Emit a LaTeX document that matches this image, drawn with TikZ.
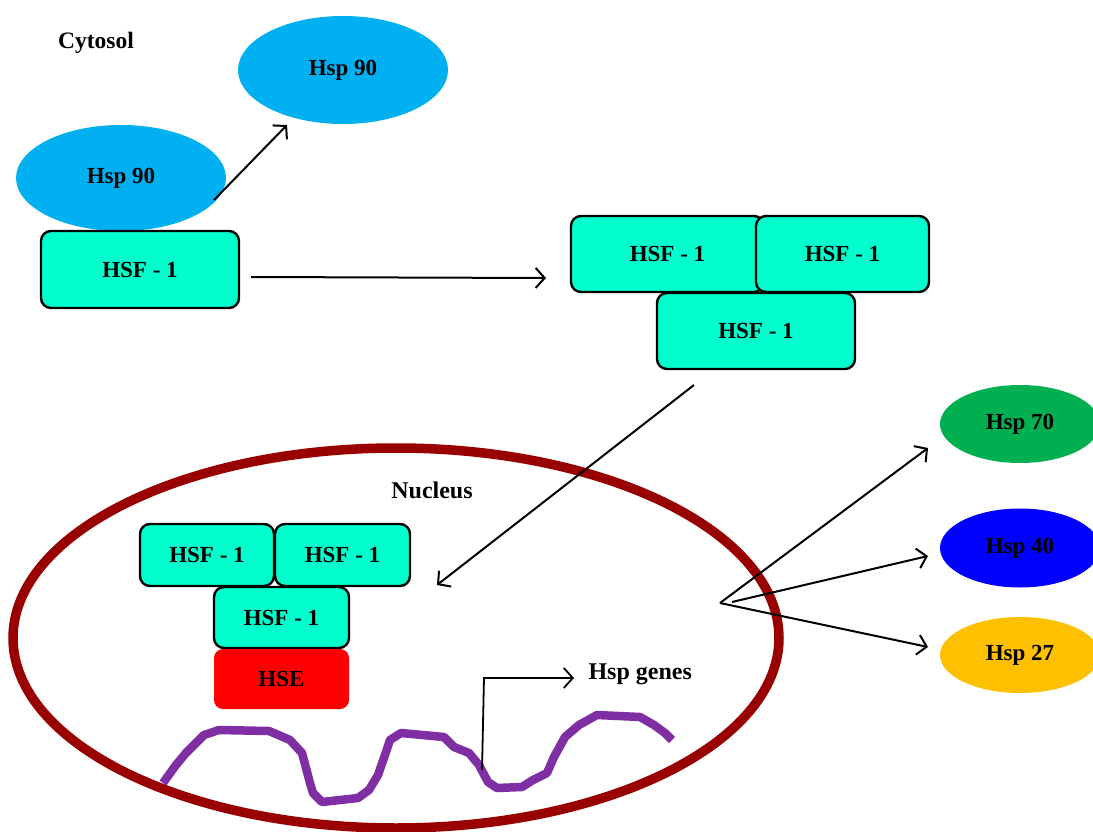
\documentclass[tikz,border=0pt]{standalone}
\usepackage{fontspec}
\setmainfont{Liberation Serif}
\usetikzlibrary{shapes.geometric,arrows.meta}
\definecolor{hspblue}{HTML}{00B0F0}
\definecolor{hsfc}{HTML}{00FFCC}
\definecolor{hspgreen}{HTML}{00B050}
\definecolor{hspdblue}{HTML}{0000FF}
\definecolor{hspyellow}{HTML}{FFC000}
\definecolor{hsered}{HTML}{FF0000}
\definecolor{nucred}{HTML}{990000}
\definecolor{dnapurple}{HTML}{7F2FA3}
\begin{document}
\begin{tikzpicture}[x=1pt,y=-1pt,
  lbl/.style={font=\bfseries\fontsize{23}{26}\selectfont},
  hsfbox/.style={draw=black, line width=2.4pt, fill=hsfc, rounded corners=10pt, inner sep=0pt, lbl},
  prot/.style={ellipse, inner sep=0pt, lbl},
  arr/.style={line width=2pt, -{Straight Barb[length=9pt,width=20pt]}},
  thinarr/.style={line width=1.8pt, -{Straight Barb[length=9pt,width=20pt]}}
]
\useasboundingbox (0,0) rectangle (1093,832);
\clip (0,0) rectangle (1093,832);
\fill[white] (0,0) rectangle (1093,832);

% labels
\node[lbl, font=\bfseries\fontsize{23.5}{26}\selectfont] (cyto) at (96,43) {Cytosol};

% Hsp 90 ellipses
\node[prot, fill=hspblue, minimum width=210pt, minimum height=108pt] (h90a) at (343,70) {Hsp 90};
\node[prot, fill=hspblue, minimum width=210pt, minimum height=106pt] (h90b) at (121,178) {Hsp 90};

% HSF-1 single
\node[hsfbox, minimum width=198pt, minimum height=77pt] (hsf0) at (140,269.5) {HSF - 1};

% trimer in cytosol
\node[hsfbox, minimum width=193pt, minimum height=76pt] (t1) at (667.5,254) {HSF - 1};
\node[hsfbox, minimum width=173pt, minimum height=76pt] (t2) at (842.5,254) {HSF - 1};
\node[hsfbox, minimum width=198pt, minimum height=76pt] (t3) at (756,331) {HSF - 1};

% nucleus
\node[ellipse, draw=nucred, line width=9.5pt, minimum width=766pt, minimum height=380pt, inner sep=0pt] (nuc) at (396,638) {};
\node[lbl, font=\bfseries\fontsize{24}{26}\selectfont] (nuclbl) at (432,490) {Nucleus};

% trimer in nucleus
\node[hsfbox, minimum width=134pt, minimum height=62pt] (n1) at (207,555) {HSF - 1};
\node[hsfbox, minimum width=135pt, minimum height=62pt] (n2) at (342.5,555) {HSF - 1};
\node[hsfbox, minimum width=135pt, minimum height=61pt] (n3) at (281.5,617.5) {HSF - 1};
\node[fill=hsered, rounded corners=9pt, inner sep=0pt, minimum width=135pt, minimum height=60pt, lbl] (hse) at (281.5,679) {HSE};

% DNA
\draw[line width=8.5pt, dnapurple, line join=round] plot coordinates {
(163,783) (176,765) (186,753) (204,735) (219,730) (269,731) (290,740) (302,753)
(310,783) (313,793) (322,802) (358,798) (369,790) (378,775) (386,752) (390,740)
(401,733) (444,737) (454,747) (469,753) (479,765) (488,782) (497,788) (522,787)
(533,780) (547,773) (554,757) (565,737) (579,725) (597,715) (640,717) (654,725)
(665,733) (672,740)};

% Hsp genes
\coordinate (gbot) at (482,770);
\coordinate (gtop) at (484,678);
\coordinate (gtip) at (574,678);
\node[lbl, font=\bfseries\fontsize{24}{26}\selectfont, anchor=west] (genes) at (585,674) {Hsp genes};
\draw[thinarr] (gbot) -- (gtop) -- (gtip);

% products
\node[prot, fill=hspgreen, minimum width=160pt, minimum height=78pt] (h70) at (1020,424) {Hsp 70};
\node[prot, fill=hspdblue, minimum width=160pt, minimum height=79pt] (h40) at (1020,548) {Hsp 40};
\node[prot, fill=hspyellow, minimum width=160pt, minimum height=76pt] (h27) at (1020,655) {Hsp 27};

% arrows
\coordinate (a1s) at (214,200);
\coordinate (a1e) at (287,125);
\draw[arr] (a1s) -- (a1e);
\coordinate (a2s) at (251,277);
\coordinate (a2e) at (546,278);
\draw[arr] (a2s) -- (a2e);
\coordinate (a3s) at (694,385);
\coordinate (a3e) at (437,585);
\draw[arr] (a3s) -- (a3e);
\coordinate (fork) at (720,603);
\coordinate (fork2) at (732,602);
\coordinate (e70) at (928,448);
\coordinate (e40) at (928,556);
\coordinate (e27) at (928,647);
\draw[arr] (fork) -- (e70);
\draw[arr] (fork2) -- (e40);
\draw[arr] (fork) -- (e27);
\end{tikzpicture}
\end{document}
